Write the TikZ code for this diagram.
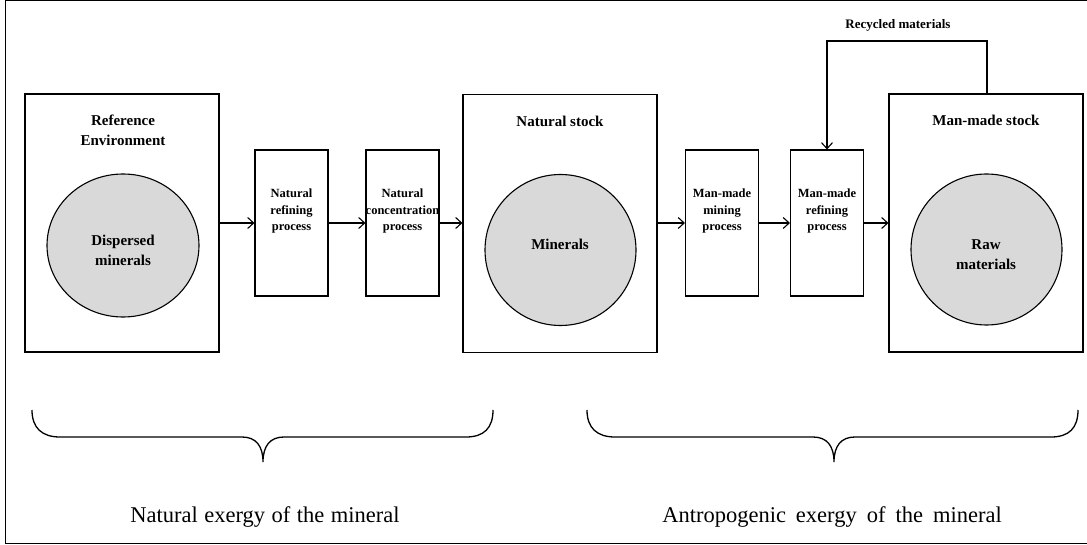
\documentclass[tikz,border=0pt]{standalone}
\usepackage{fontspec}
\setmainfont{Liberation Serif}
\usetikzlibrary{arrows.meta,shapes.geometric}
\definecolor{circfill}{HTML}{D9D9D9}
\tikzset{
  bigbox/.style={draw,line width=1.1pt,minimum width=194pt,minimum height=258pt,inner sep=0pt},
  procbox/.style={draw,line width=1.1pt,minimum width=73pt,minimum height=146pt,inner sep=0pt},
  circ/.style={draw,line width=1.1pt,fill=circfill,ellipse,inner sep=0pt,minimum width=151pt,minimum height=151pt},
  headtxt/.style={font=\fontsize{15}{20}\selectfont\bfseries,align=center,inner sep=0pt},
  proctxt/.style={font=\fontsize{12.5}{16.5}\selectfont\bfseries,align=center,inner sep=0pt},
  circtxt/.style={font=\fontsize{15}{20}\selectfont\bfseries,align=center,inner sep=0pt},
  bottxt/.style={font=\fontsize{22.5}{27}\selectfont,inner sep=0pt},
  arr/.style={line width=1.1pt,-{Straight Barb[length=6pt,width=11pt,line width=1.1pt]}},
  brace/.style={line width=1.3pt}
}
\begin{document}
\begin{tikzpicture}[x=1pt,y=-1pt]
\useasboundingbox (0,0) rectangle (1087,545);
% outer frame
\draw[line width=1pt] (1090,1) -- (5,1) -- (5,543) -- (1090,543);

% big boxes
\node[bigbox] (refenv) at (122,223) {};
\node[bigbox] (nstock) at (560,223.5) {};
\node[bigbox] (mstock) at (986,223) {};

% process boxes
\node[procbox] (nref) at (291.5,223) {};
\node[procbox] (ncon) at (402.5,223) {};
\node[procbox] (mmin) at (722,223) {};
\node[procbox] (mref) at (827,223) {};

% circles
\node[circ,minimum width=152pt,minimum height=143pt] (c1) at (123,245.5) {};
\node[circ] (c2) at (560.5,250) {};
\node[circ] (c3) at (986.5,249.5) {};

% headings
\node[headtxt] (h1) at (123,130) {Reference\\Environment};
\node[headtxt] (h2) at (560,121) {Natural stock};
\node[headtxt] (h3) at (986,120) {Man-made stock};

% circle texts
\node[circtxt] (t1) at (123,250) {Dispersed\\minerals};
\node[circtxt] (t2) at (560,244) {Minerals};
\node[circtxt] (t3) at (986,255) {Raw\\materials};

% process texts
\node[proctxt] (p1) at (291.5,211) {Natural\\refining\\process};
\node[proctxt] (p2) at (402.5,211) {Natural\\concentration\\process};
\node[proctxt] (p3) at (722,211) {Man-made\\mining\\process};
\node[proctxt] (p4) at (827,211) {Man-made\\refining\\process};

% arrows
\draw[arr] (refenv.east) -- (nref.west);
\draw[arr] (nref.east) -- (ncon.west);
\draw[arr] (ncon.east) -- (nstock.west |- ncon.east);
\draw[arr] (nstock.east |- mmin.west) -- (mmin.west);
\draw[arr] (mmin.east) -- (mref.west);
\draw[arr] (mref.east) -- (mstock.west);

% recycle loop
\coordinate (loopR) at (987,41);
\draw[arr] (mstock.north -| loopR) -- (loopR) -| (mref.north);
\node[font=\fontsize{13}{16}\selectfont\bfseries,inner sep=0pt] (rec) at (898,25) {Recycled materials};

% braces
\draw[brace] (32,410) .. controls (32,428) and (42,437) .. (60,437) -- (242,437)
  .. controls (256,437) and (263,446) .. (263,462)
  .. controls (263,446) and (270,437) .. (284,437) -- (466,437)
  .. controls (484,437) and (493,428) .. (493,410);
\draw[brace] (587,410) .. controls (587,428) and (597,437) .. (615,437) -- (813,437)
  .. controls (827,437) and (834,446) .. (834,462)
  .. controls (834,446) and (841,437) .. (855,437) -- (1051,437)
  .. controls (1069,437) and (1078,428) .. (1078,410);

% bottom labels
\node[bottxt] (b1) at (265,517) {\spaceskip=6.5pt Natural exergy of the mineral};
\node[bottxt] (b2) at (832,517) {\spaceskip=10pt Antropogenic exergy of the mineral};
\end{tikzpicture}
\end{document}
